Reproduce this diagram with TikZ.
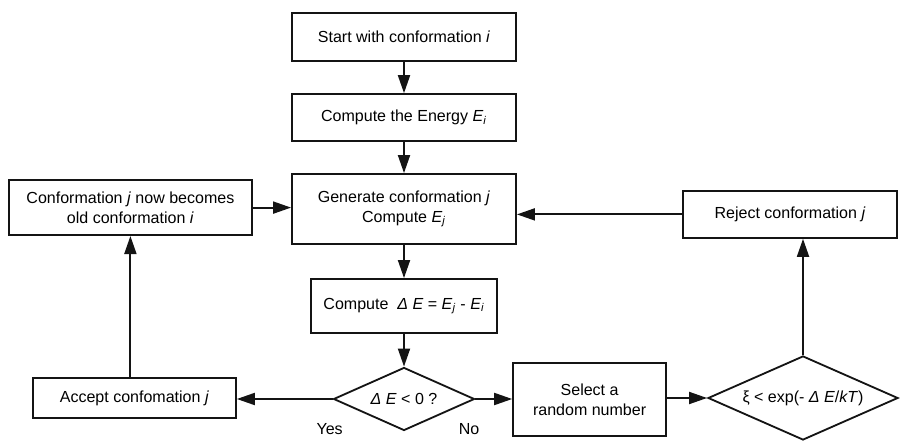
\documentclass[tikz,border=0pt]{standalone}
\usepackage{fontspec}
\setmainfont{Liberation Sans}
\usetikzlibrary{arrows.meta,shapes.geometric,positioning,calc}
\definecolor{inkBlack}{RGB}{20,20,20}
\newcommand{\Ei}{\textit{E}\textsubscript{\textit{i}}}
\newcommand{\Ej}{\textit{E}\textsubscript{\textit{j}}}
\newcommand{\dE}{\textit{Δ E}}
\tikzset{
  flowbox/.style={rectangle, draw=inkBlack, line width=1.3pt, align=center,
    inner sep=0pt, font=\fontsize{11.4}{14}\selectfont},
  testnode/.style={diamond, aspect=2.25, draw=inkBlack, line width=1.3pt, inner sep=0pt,
    font=\fontsize{11.4}{14}\selectfont},
  flowArrow/.style={-{Triangle[length=0.45cm,width=0.3cm]}, line width=1.3pt, draw=inkBlack}
}
\begin{document}
\begin{tikzpicture}
        \useasboundingbox (0,0) rectangle (22.5,11);
        \node[flowbox, minimum width=5.6cm, minimum height=1.2cm] (start) at (10.1,10.075) {Start with conformation \textit{i}};
        \node[flowbox, minimum width=5.6cm, minimum height=1.175cm] (energy) at (10.1,8.06) {Compute the Energy \Ei};
        \node[flowbox, minimum width=5.6cm, minimum height=1.75cm] (gen) at (10.1,5.775) {Generate conformation \textit{j}\\Compute \Ej};
        \node[flowbox, minimum width=4.65cm, minimum height=1.35cm] (delta) at (10.1,3.35) {Compute \;\dE{} = \Ej{} - \Ei};
        \node[testnode, minimum width=3.525cm, minimum height=1.575cm] (test) at (10.1,1.025) {\dE{} < 0 ?};
        \node[flowbox, minimum width=3.825cm, minimum height=1.825cm] (rand) at (14.74,1.01) {Select a\\random number};
        \node[testnode, minimum width=4.75cm, minimum height=2.1cm] (metro) at (20.075,1.05) {ξ < exp(- \textit{Δ  E}/\textit{kT})};
        \node[flowbox, minimum width=5.35cm, minimum height=1.175cm] (reject) at (19.75,5.64) {Reject conformation \textit{j}};
        \node[flowbox, minimum width=6.075cm, minimum height=1.375cm] (old) at (3.26,5.81) {Conformation \textit{j} now becomes\\old conformation \textit{i}};
        \node[flowbox, minimum width=5.075cm, minimum height=1cm] (accept) at (3.36,1.05) {Accept confomation \textit{j}};
        \draw[flowArrow] (start) -- (energy);
        \draw[flowArrow] (energy) -- (gen);
        \draw[flowArrow] (gen) -- (delta);
        \draw[flowArrow] (delta) -- (test);
        \draw[flowArrow] (test.east) -- (test.east -| rand.west);
        \draw[flowArrow] (rand.east |- metro.west) -- (metro.west);
        \draw[flowArrow] (metro.north) -- (metro.north |- reject.south);
        \draw[flowArrow] (reject.west) -- (reject.west -| gen.east);
        \draw[flowArrow] (test.west) -- (test.west -| accept.east);
        \draw[flowArrow] (accept.north -| old.south) -- (old.south);
        \draw[flowArrow] (old.east) -- (old.east -| gen.west);
        \node[font=\fontsize{11.4}{14}\selectfont] (yes) at (8.24,0.275) {Yes};
        \node[font=\fontsize{11.4}{14}\selectfont] (no) at (11.725,0.275) {No};
      \end{tikzpicture}
\end{document}
